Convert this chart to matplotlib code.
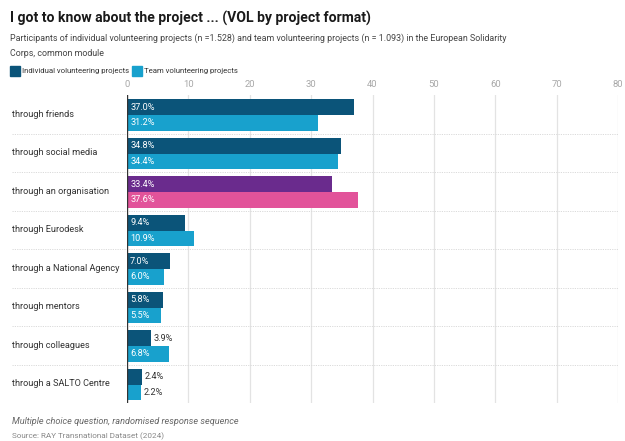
import matplotlib
matplotlib.use("Agg")
import matplotlib.pyplot as plt
from matplotlib.patches import Rectangle
from matplotlib.transforms import blended_transform_factory
import numpy as np

plt.rcParams['font.family'] = ['Roboto', 'DejaVu Sans']

categories = ["through friends", "through social media", "through an organisation",
              "through Eurodesk", "through a National Agency", "through mentors",
              "through colleagues", "through a SALTO Centre"]
individual = [37.0, 34.8, 33.4, 9.4, 7.0, 5.8, 3.9, 2.4]
team = [31.2, 34.4, 37.6, 10.9, 6.0, 5.5, 6.8, 2.2]
series_names = ["Individual volunteering projects", "Team volunteering projects"]
xticks = [0, 10, 20, 30, 40, 50, 60, 70, 80]

c_ind = "#0b5479"
c_team = "#18a1cd"
c_ind_hl = "#6a2b8d"
c_team_hl = "#e2539a"
highlight = "through an organisation"

W, H = 625, 441
fig = plt.figure(figsize=(W / 100, H / 100), dpi=100)

def fx(px):
    return px / W

def fy(py):
    return 1 - py / H

left, right, top, bottom = 127, 618, 95, 403
ax = fig.add_axes([fx(left), fy(bottom), fx(right - left), fy(top) - fy(bottom)])
n = len(categories)
ax.set_xlim(0, 80)
ax.set_ylim(n, 0)

bh = 0.41
for i, cat in enumerate(categories):
    ci = c_ind_hl if cat == highlight else c_ind
    ct = c_team_hl if cat == highlight else c_team
    y_i = i + 0.5 - bh / 2 + 0.02
    y_t = i + 0.5 + bh / 2 + 0.02
    ax.barh(y_i, individual[i], height=bh, color=ci, zorder=3)
    ax.barh(y_t, team[i], height=bh, color=ct, zorder=3)
    for val, yy in ((individual[i], y_i), (team[i], y_t)):
        lab = f"{val:.1f}%"
        if val >= 5:
            ax.text(0.5, yy, lab, color="white", fontsize=6.6, va="center", ha="left", zorder=4)
        else:
            ax.text(val + 0.5, yy, lab, color="#333333", fontsize=6.6, va="center", ha="left", zorder=4)

# grid
for t in xticks[1:]:
    ax.axvline(t, color="#e3e3e3", lw=0.9, zorder=1)
ax.axvline(0, color="#333333", lw=1.0, zorder=5)
for i in range(1, n):
    ax.axhline(i, xmin=(12 - left) / (right - left), xmax=1.0, color="#dadada",
               lw=0.7, ls=(0, (1.2, 1.2)), clip_on=False, zorder=2)

ax.set_xticks(xticks)
ax.xaxis.tick_top()
ax.tick_params(axis="x", length=0, pad=4, labelsize=6.8, labelcolor="#a8a8a8")
ax.set_yticks([])
for s in ax.spines.values():
    s.set_visible(False)

tr = blended_transform_factory(fig.transFigure, ax.transData)
for i, cat in enumerate(categories):
    ax.text(fx(12), i + 0.5, cat, transform=tr, fontsize=6.6, color="#333333",
            va="center", ha="left")

# titles
fig.text(fx(10), fy(18), "I got to know about the project ... (VOL by project format)",
         fontsize=10.1, fontweight="bold", color="#1a1a1a", va="center", ha="left")
fig.text(fx(10), fy(38), "Participants of individual volunteering projects (n =1.528) and team volunteering projects (n = 1.093) in the European Solidarity",
         fontsize=6.4, color="#444444", va="center", ha="left")
fig.text(fx(10), fy(54), "Corps, common module",
         fontsize=6.4, color="#444444", va="center", ha="left")

# legend
fig.patches.append(Rectangle((fx(10), fy(76)), fx(9.5), fy(66) - fy(76), color=c_ind,
                             transform=fig.transFigure))
fig.text(fx(22), fy(71), series_names[0], fontsize=5.6, color="#333333", va="center", ha="left")
fig.patches.append(Rectangle((fx(132), fy(76)), fx(9.5), fy(66) - fy(76), color=c_team,
                             transform=fig.transFigure))
fig.text(fx(144), fy(71), series_names[1], fontsize=5.6, color="#333333", va="center", ha="left")

# footer
fig.text(fx(12), fy(422), "Multiple choice question, randomised response sequence",
         fontsize=6.6, style="italic", color="#666666", va="center", ha="left")
fig.text(fx(12), fy(436), "Source: RAY Transnational Dataset (2024)",
         fontsize=5.9, color="#888888", va="center", ha="left")

fig.savefig("out.png", dpi=100)
